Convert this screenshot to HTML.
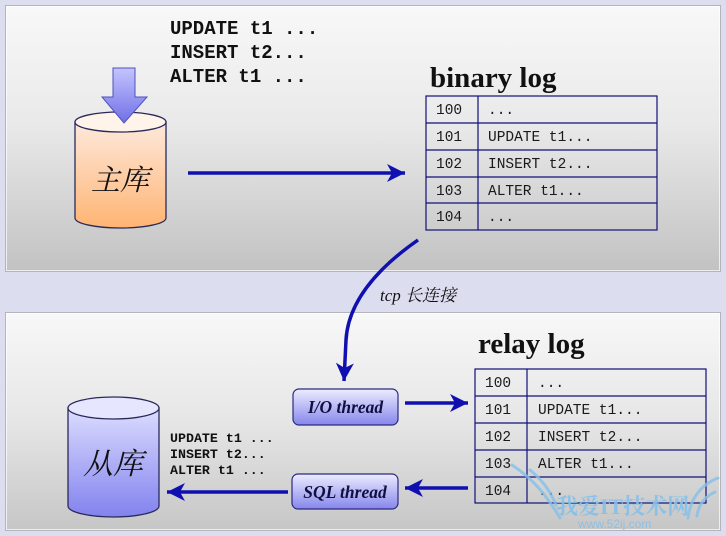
<!DOCTYPE html>
<html><head><meta charset="utf-8"><style>
html,body{margin:0;padding:0;background:#dcdef0;}
svg{display:block;}
.mono{font-family:"Liberation Mono","DejaVu Sans Mono",monospace;}
.serif{font-family:"Liberation Serif","Noto Serif CJK SC",serif;}
.cjk{font-family:"Liberation Serif","Noto Serif CJK SC","Noto Sans CJK SC",serif;}
</style></head><body>
<svg width="726" height="536" viewBox="0 0 726 536" xmlns="http://www.w3.org/2000/svg">
<defs>
<linearGradient id="pan" x1="0" y1="0" x2="0" y2="1">
<stop offset="0" stop-color="#f8f8f8"/><stop offset="0.45" stop-color="#e9e9e9"/><stop offset="1" stop-color="#c2c2c2"/>
</linearGradient>
<linearGradient id="pan2" x1="0" y1="0" x2="0" y2="1">
<stop offset="0" stop-color="#f8f8f8"/><stop offset="0.5" stop-color="#e6e6e6"/><stop offset="1" stop-color="#c6c6c6"/>
</linearGradient>
<linearGradient id="orange" x1="0" y1="0" x2="0" y2="1">
<stop offset="0" stop-color="#fde9dc"/><stop offset="1" stop-color="#ffb473"/>
</linearGradient>
<linearGradient id="blue" x1="0" y1="0" x2="0" y2="1">
<stop offset="0" stop-color="#dcdcff"/><stop offset="1" stop-color="#8282ee"/>
</linearGradient>
<linearGradient id="btn" x1="0" y1="0" x2="0" y2="1">
<stop offset="0" stop-color="#ececff"/><stop offset="1" stop-color="#8686ec"/>
</linearGradient>
<linearGradient id="darr" x1="0" y1="0" x2="0" y2="1">
<stop offset="0" stop-color="#c4c4ff"/><stop offset="1" stop-color="#7070e6"/>
</linearGradient>
<marker id="ah" markerUnits="userSpaceOnUse" markerWidth="22" markerHeight="22" refX="18" refY="10" orient="auto">
<path d="M0,1 L18,10 L0,19 L5,10 z" fill="#1010b0"/>
</marker>
</defs>

<!-- panels -->
<rect x="5.5" y="5.5" width="715" height="266" fill="url(#pan)" stroke="#b4b4bc" stroke-width="1"/>
<rect x="6.5" y="6.5" width="713" height="264" fill="none" stroke="#ffffff" stroke-opacity="0.7" stroke-width="1"/>
<rect x="5.5" y="312.5" width="715" height="218" fill="url(#pan2)" stroke="#b4b4bc" stroke-width="1"/>
<rect x="6.5" y="313.5" width="713" height="216" fill="none" stroke="#ffffff" stroke-opacity="0.7" stroke-width="1"/>

<!-- top commands -->
<g class="mono" font-weight="bold" font-size="19" fill="#111">
<text x="170" y="34">UPDATE t1 ...</text>
<text x="170" y="58">INSERT t2...</text>
<text x="170" y="82">ALTER t1 ...</text>
</g>

<!-- master cylinder -->
<path d="M75,122 L75,218 A45.5,10 0 0 0 166,218 L166,122 Z" fill="url(#orange)" stroke="#2a2a5a" stroke-width="1.3"/>
<ellipse cx="120.5" cy="122" rx="45.5" ry="10" fill="#fff4ea" stroke="#2a2a5a" stroke-width="1.3"/>
<text x="120" y="190" text-anchor="middle" class="cjk" font-style="italic" font-size="29" fill="#111">主库</text>

<!-- down arrow -->
<path d="M113,68 L135,68 L135,97 L147,97 L124,123 L102,97 L113,97 Z" fill="url(#darr)" stroke="#5050c0" stroke-width="1"/>

<!-- main horizontal arrow -->
<line x1="188" y1="173" x2="405" y2="173" stroke="#1010b0" stroke-width="3.5" marker-end="url(#ah)"/>

<!-- binary log -->
<text x="430" y="87" class="serif" font-weight="bold" font-size="29" fill="#111">binary log</text>
<g stroke="#10107a" stroke-width="1.2" fill="none">
<rect x="426" y="96" width="231" height="134"/>
<line x1="478" y1="96" x2="478" y2="230"/>
<line x1="426" y1="123" x2="657" y2="123"/>
<line x1="426" y1="150" x2="657" y2="150"/>
<line x1="426" y1="177" x2="657" y2="177"/>
<line x1="426" y1="203" x2="657" y2="203"/>
</g>
<g class="mono" font-size="14.5" fill="#1a1a1a">
<text x="436" y="114">100</text><text x="488" y="114">...</text>
<text x="436" y="141">101</text><text x="488" y="141">UPDATE t1...</text>
<text x="436" y="168">102</text><text x="488" y="168">INSERT t2...</text>
<text x="436" y="195">103</text><text x="488" y="195">ALTER t1...</text>
<text x="436" y="221">104</text><text x="488" y="221">...</text>
</g>

<!-- curved tcp arrow -->
<path d="M418,240 C372,272 348,305 346,340 L344,381" fill="none" stroke="#1010b0" stroke-width="3.5" marker-end="url(#ah)"/>
<text x="380" y="301" class="cjk" font-style="italic" font-size="17" fill="#111">tcp 长连接</text>

<!-- relay log -->
<text x="478" y="353" class="serif" font-weight="bold" font-size="29" fill="#111">relay log</text>
<g stroke="#10107a" stroke-width="1.2" fill="none">
<rect x="475" y="369" width="231" height="134"/>
<line x1="527" y1="369" x2="527" y2="503"/>
<line x1="475" y1="396" x2="706" y2="396"/>
<line x1="475" y1="423" x2="706" y2="423"/>
<line x1="475" y1="450" x2="706" y2="450"/>
<line x1="475" y1="477" x2="706" y2="477"/>
</g>
<g class="mono" font-size="14.5" fill="#1a1a1a">
<text x="485" y="387">100</text><text x="538" y="387">...</text>
<text x="485" y="414">101</text><text x="538" y="414">UPDATE t1...</text>
<text x="485" y="441">102</text><text x="538" y="441">INSERT t2...</text>
<text x="485" y="468">103</text><text x="538" y="468">ALTER t1...</text>
<text x="485" y="495">104</text><text x="538" y="495">...</text>
</g>

<!-- buttons -->
<rect x="293" y="389" width="105" height="36" rx="6" fill="url(#btn)" stroke="#2a2a80" stroke-width="1.2"/>
<text x="345.5" y="413" text-anchor="middle" class="serif" font-weight="bold" font-style="italic" font-size="17.5" fill="#101040">I/O thread</text>
<rect x="292" y="474" width="106" height="35" rx="6" fill="url(#btn)" stroke="#2a2a80" stroke-width="1.2"/>
<text x="345" y="498" text-anchor="middle" class="serif" font-weight="bold" font-style="italic" font-size="17.5" fill="#101040">SQL thread</text>

<!-- arrows bottom -->
<line x1="405" y1="403" x2="468" y2="403" stroke="#1010b0" stroke-width="3.5" marker-end="url(#ah)"/>
<line x1="468" y1="488" x2="405" y2="488" stroke="#1010b0" stroke-width="3.5" marker-end="url(#ah)"/>
<line x1="288" y1="492" x2="167" y2="492" stroke="#1010b0" stroke-width="3.5" marker-end="url(#ah)"/>

<!-- slave cylinder -->
<path d="M68,408 L68,506 A45.5,11 0 0 0 159,506 L159,408 Z" fill="url(#blue)" stroke="#2a2a5a" stroke-width="1.3"/>
<ellipse cx="113.5" cy="408" rx="45.5" ry="11" fill="#e6e6ff" stroke="#2a2a5a" stroke-width="1.3"/>
<text x="113" y="474" text-anchor="middle" class="cjk" font-style="italic" font-size="30" fill="#111">从库</text>

<!-- slave commands -->
<g class="mono" font-weight="bold" font-size="13.3" fill="#111">
<text x="170" y="442">UPDATE t1 ...</text>
<text x="170" y="458">INSERT t2...</text>
<text x="170" y="474">ALTER t1 ...</text>
</g>

<!-- watermark -->
<g opacity="0.8" fill="none" stroke="#86c0ea" stroke-width="3" stroke-linecap="round">
<path d="M512,465 C535,480 548,498 560,518"/>
<path d="M530,470 C545,482 552,495 556,505"/>
<path d="M718,478 C700,485 690,500 688,518"/>
<path d="M715,492 C702,498 698,508 697,516"/>
</g>
<text x="556" y="514" class="cjk" font-weight="bold" font-size="22" fill="#86c0ea" opacity="0.9">我爱IT技术网</text>
<text x="578" y="528" font-family="Liberation Sans, sans-serif" font-size="12" fill="#86c0ea" opacity="0.9">www.52ij.com</text>
</svg>
</body></html>
